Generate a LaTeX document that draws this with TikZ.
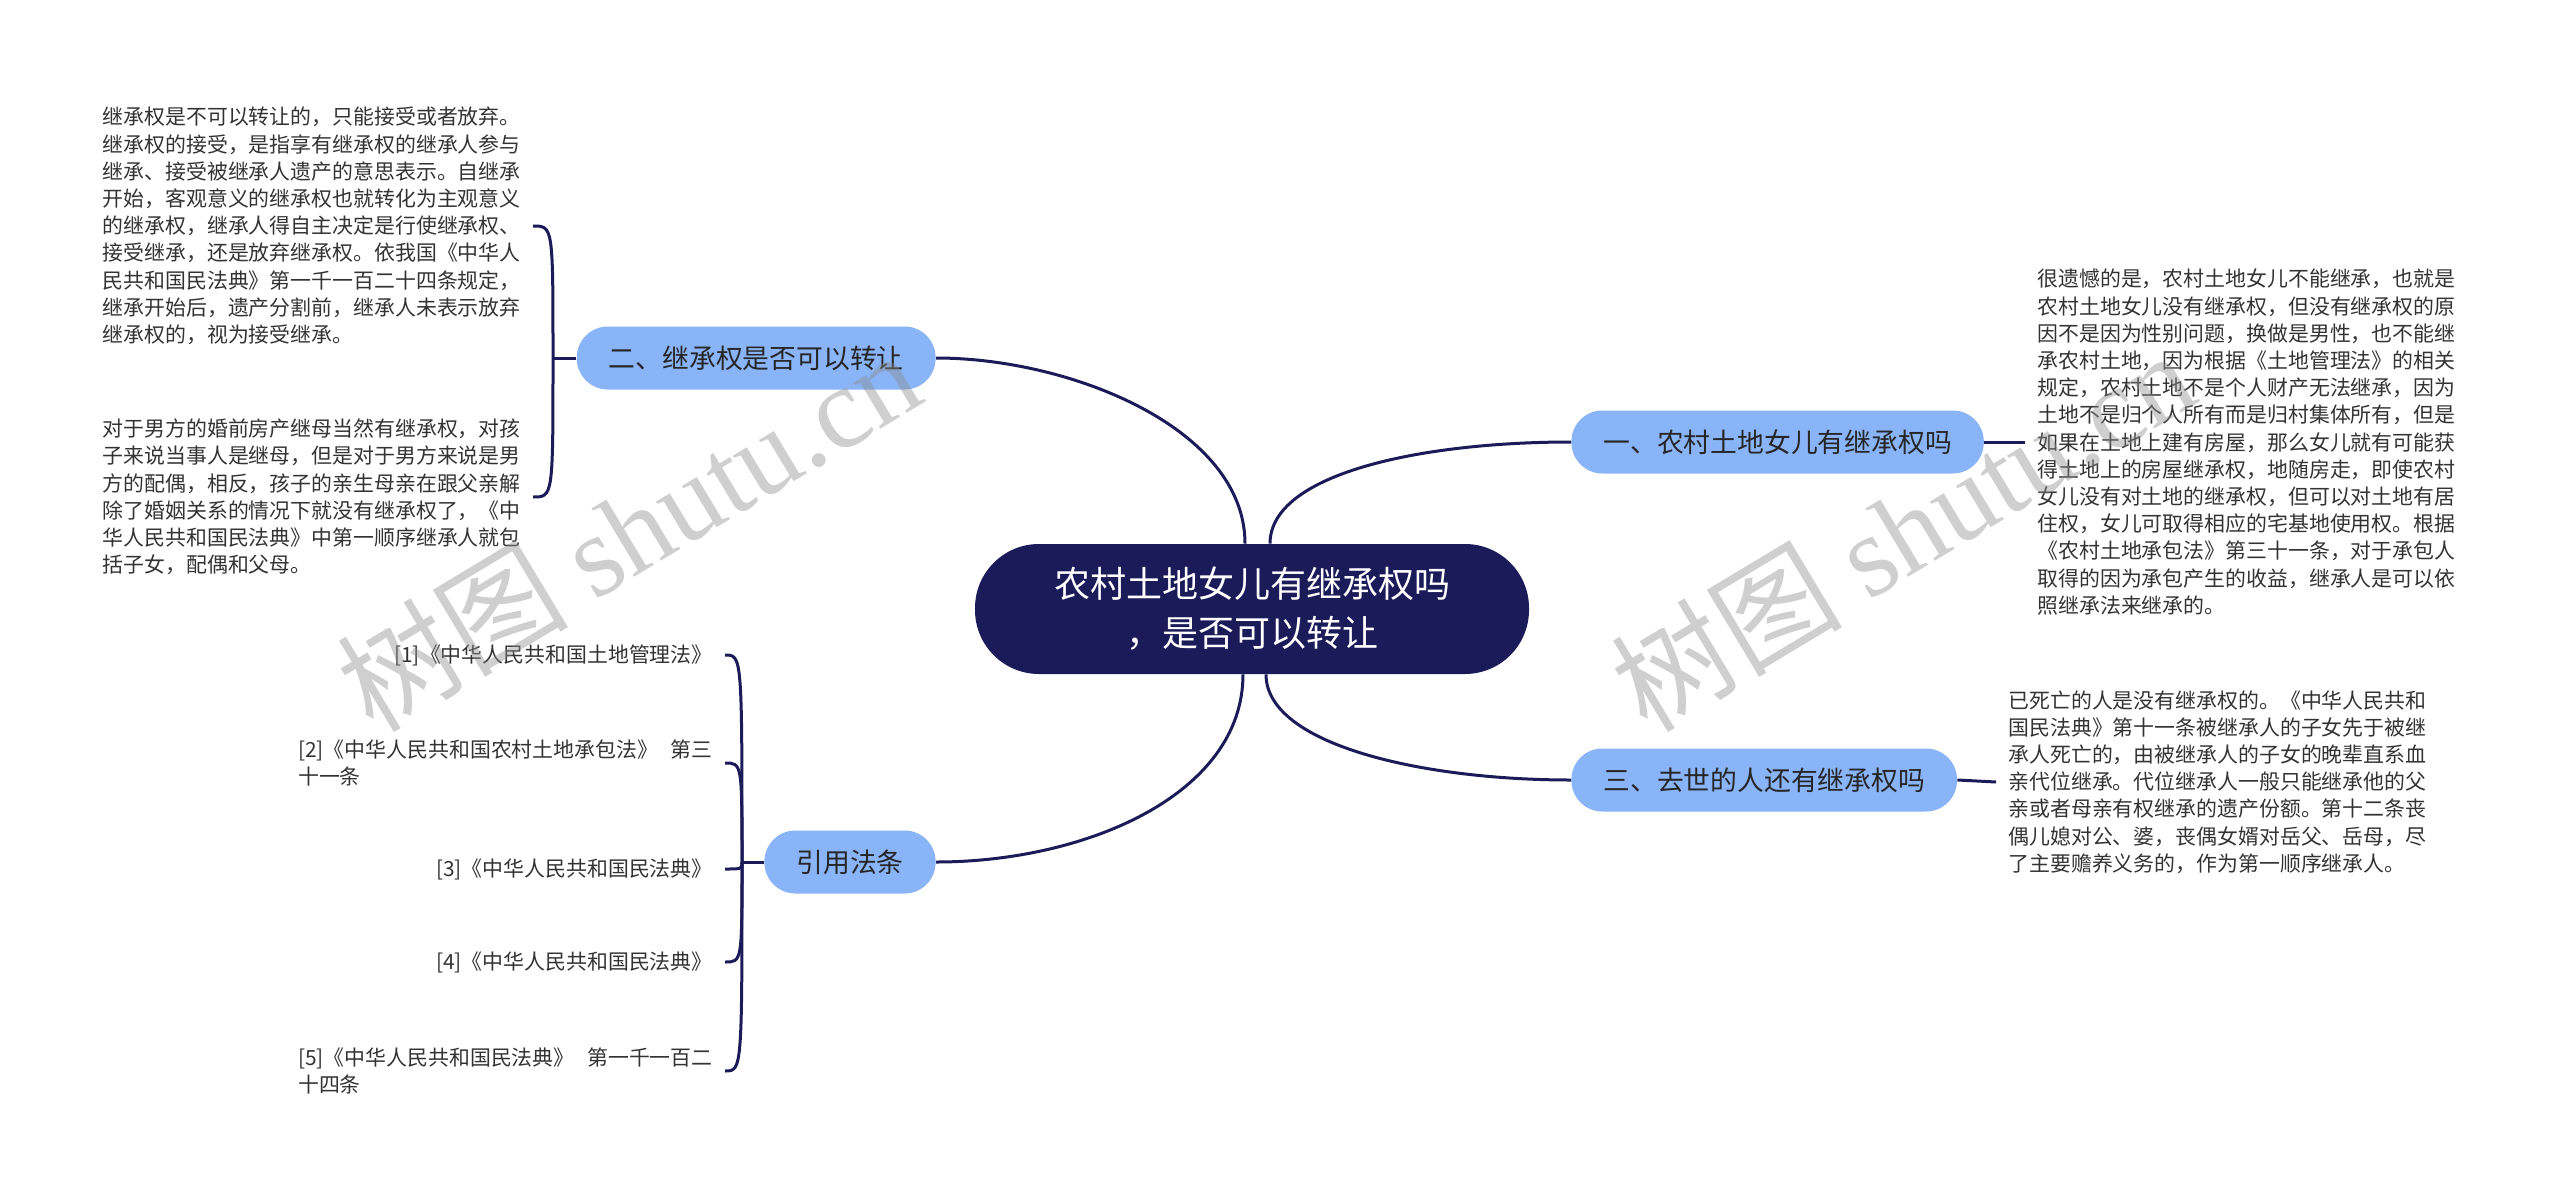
\documentclass[tikz,border=0pt]{standalone}
\usepackage{fontspec}
\setmainfont{Noto Sans CJK SC}
\newfontfamily\latinserif{Liberation Serif}
\usetikzlibrary{positioning}

\definecolor{deepnavy}{HTML}{1C1B59}
\definecolor{skyblue}{HTML}{8AB4F8}
\definecolor{inkgray}{HTML}{333333}

\tikzset{
  rootbox/.style={fill=deepnavy, text=white, rounded corners=32pt,
    minimum width=277pt, minimum height=65pt, align=center,
    font=\fontsize{18}{24.5}\selectfont},
  branchbox/.style={fill=skyblue, text=black!85, rounded corners=15.5pt,
    minimum height=31.5pt, inner xsep=16pt,
    font=\fontsize{13.4}{16}\selectfont},
  leaftext/.style={text=inkgray, align=left, inner xsep=6pt,
    font=\fontsize{10.45}{13.6}\selectfont},
  link/.style={draw=deepnavy, line width=1.5pt},
  wmark/.style={text=black!45, opacity=0.42, rotate=31,
    font=\fontsize{58}{58}\selectfont}
}

\begin{document}
\begin{tikzpicture}[x=0.5pt, y=-0.5pt]
    \useasboundingbox (0,0) rectangle (2560,1199);

    % Central topic
    \node[rootbox] (root) at (1252,609) {农村土地女儿有继承权吗\\，是否可以转让};

    % Main branches
    \node[branchbox, anchor=west] (b1) at (1571,442) {一、农村土地女儿有继承权吗};
    \node[branchbox, anchor=east] (b2) at (936,358) {二、继承权是否可以转让};
    \node[branchbox, anchor=west] (b3) at (1571,780) {三、去世的人还有继承权吗};
    \node[branchbox, anchor=east] (law) at (936,862) {引用法条};

    % Curves from the centre
    \draw[link] ([xshift=-3.5pt]root.north) .. controls +(0,-115) and +(135,0) .. (b2.east);
    \draw[link] ([xshift=9pt]root.north) .. controls +(0,-70) and +(-150,0) .. (b1.west);
    \draw[link] ([xshift=7pt]root.south) .. controls +(0,70) and +(-150,0) .. (b3.west);
    \draw[link] ([xshift=-4.5pt]root.south) .. controls +(0,120) and +(150,0) .. (law.east);

    % Branch one
    \node[leaftext, anchor=west] (leafC) at (2025,442) {很遗憾的是，农村土地女儿不能继承，也就是\\
农村土地女儿没有继承权，但没有继承权的原\\
因不是因为性别问题，换做是男性，也不能继\\
承农村土地，因为根据《土地管理法》的相关\\
规定，农村土地不是个人财产无法继承，因为\\
土地不是归个人所有而是归村集体所有，但是\\
如果在土地上建有房屋，那么女儿就有可能获\\
得土地上的房屋继承权，地随房走，即使农村\\
女儿没有对土地的继承权，但可以对土地有居\\
住权，女儿可取得相应的宅基地使用权。根据\\
《农村土地承包法》第三十一条，对于承包人\\
取得的因为承包产生的收益，继承人是可以依\\
照继承法来继承的。};
    \draw[link] (b1.east) -- (leafC.west);

    % Branch two
    \node[leaftext, anchor=east] (leafA) at (533,226) {继承权是不可以转让的，只能接受或者放弃。\\
继承权的接受，是指享有继承权的继承人参与\\
继承、接受被继承人遗产的意思表示。自继承\\
开始，客观意义的继承权也就转化为主观意义\\
的继承权，继承人得自主决定是行使继承权、\\
接受继承，还是放弃继承权。依我国《中华人\\
民共和国民法典》第一千一百二十四条规定，\\
继承开始后，遗产分割前，继承人未表示放弃\\
继承权的，视为接受继承。};
    \node[leaftext, anchor=east] (leafB) at (533,497) {对于男方的婚前房产继母当然有继承权，对孩\\
子来说当事人是继母，但是对于男方来说是男\\
方的配偶，相反，孩子的亲生母亲在跟父亲解\\
除了婚姻关系的情况下就没有继承权了，《中\\
华人民共和国民法典》中第一顺序继承人就包\\
括子女，配偶和父母。};
    \coordinate (hubL) at (553,358);
    \draw[link] (b2.west) -- (hubL);
    \foreach \leaf in {leafA,leafB}
        \draw[link] (hubL) .. controls (hubL |- \leaf.east) and (hubL |- \leaf.east) .. (\leaf.east);

    % Branch three
    \node[leaftext, anchor=west] (leafD) at (1996,782) {已死亡的人是没有继承权的。《中华人民共和\\
国民法典》第十一条被继承人的子女先于被继\\
承人死亡的，由被继承人的子女的晚辈直系血\\
亲代位继承。代位继承人一般只能继承他的父\\
亲或者母亲有权继承的遗产份额。第十二条丧\\
偶儿媳对公、婆，丧偶女婿对岳父、岳母，尽\\
了主要赡养义务的，作为第一顺序继承人。};
    \draw[link] (b3.east) -- (leafD.west);

    % Cited laws
    \node[leaftext, anchor=east] (ref1) at (725,655) {[1]《中华人民共和国土地管理法》};
    \node[leaftext, anchor=east] (ref2) at (725,763) {[2]《中华人民共和国农村土地承包法》\hspace{0.6em}第三\\十一条};
    \node[leaftext, anchor=east] (ref3) at (725,869) {[3]《中华人民共和国民法典》};
    \node[leaftext, anchor=east] (ref4) at (725,962) {[4]《中华人民共和国民法典》};
    \node[leaftext, anchor=east] (ref5) at (725,1071) {[5]《中华人民共和国民法典》\hspace{0.6em}第一千一百二\\十四条};
    \coordinate (hubR) at (742,862);
    \draw[link] (law.west) -- (hubR);
    \foreach \r in {ref1,ref2,ref3,ref4,ref5}
        \draw[link] (hubR) .. controls (hubR |- \r.east) and (hubR |- \r.east) .. (\r.east);

    % Watermarks
    \node[wmark] (wm1) at (628,530) {树图 {\latinserif shutu.cn}};
    \node[wmark] (wm2) at (1902,530) {树图 {\latinserif shutu.cn}};
\end{tikzpicture}
\end{document}
